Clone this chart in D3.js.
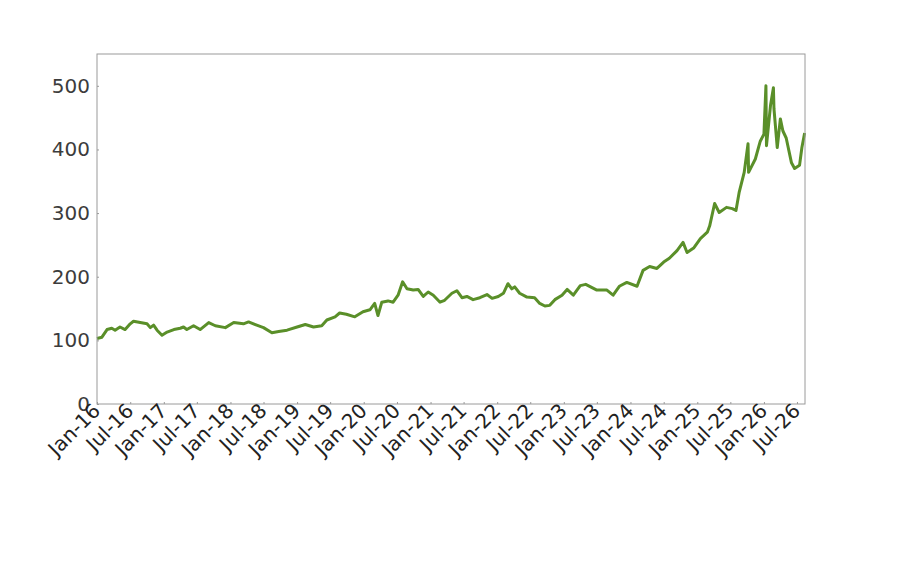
<!DOCTYPE html>
<html>
<head>
<meta charset="utf-8">
<script src="https://cdn.jsdelivr.net/npm/d3@7"></script>
<style>
  body { margin: 0; background: #fff; }
  svg { display: block; }
</style>
</head>
<body>
<svg id="chart" width="902" height="574"></svg>
<script>
// values
const dates = [
  "2016-01-01","2016-01-28","2016-02-25","2016-03-22","2016-04-09","2016-05-06","2016-06-03","2016-07-01",
  "2016-07-19","2016-08-25","2016-10-01","2016-10-19","2016-11-06","2016-11-25","2016-12-22","2017-01-19",
  "2017-02-25","2017-04-01","2017-04-19","2017-05-07","2017-06-13","2017-07-19","2017-09-04","2017-10-10",
  "2017-12-04","2018-01-19","2018-03-13","2018-04-10","2018-05-25","2018-07-01","2018-08-16","2018-09-22",
  "2018-11-07","2019-01-01","2019-02-15","2019-04-01","2019-05-16","2019-06-13","2019-07-28","2019-08-22",
  "2019-09-28","2019-11-13","2019-12-28","2020-02-04","2020-03-01","2020-03-19","2020-04-09","2020-05-13",
  "2020-06-10","2020-07-07","2020-08-01","2020-08-25","2020-09-28","2020-10-25","2020-11-22","2020-12-19",
  "2021-01-16","2021-02-22","2021-03-19","2021-04-28","2021-05-25","2021-06-22","2021-07-19","2021-08-22",
  "2021-09-28","2021-11-06","2021-12-04","2022-01-07","2022-02-04","2022-03-01","2022-03-22","2022-04-07",
  "2022-05-04","2022-06-13","2022-07-25","2022-08-22","2022-09-19","2022-10-16","2022-11-13","2022-12-22",
  "2023-01-19","2023-02-22","2023-04-01","2023-05-01","2023-07-01","2023-08-25","2023-09-28","2023-11-01",
  "2023-12-12","2024-02-06","2024-03-10","2024-04-15","2024-05-25","2024-07-01","2024-08-01","2024-09-12",
  "2024-10-15","2024-11-06","2024-12-12","2025-01-18","2025-02-25","2025-03-10","2025-04-06","2025-05-01",
  "2025-06-10","2025-07-12","2025-08-01","2025-08-18","2025-09-15","2025-10-06","2025-10-09","2025-11-15",
  "2025-12-12","2026-01-01","2026-01-12","2026-01-15","2026-02-06","2026-02-22","2026-02-25","2026-03-15",
  "2026-04-01","2026-04-15","2026-05-03","2026-06-01","2026-06-18","2026-07-15","2026-07-28","2026-08-12"
];
const values = [
  103, 105, 117, 119, 116, 121, 117, 126,
  130, 128, 126, 120, 124, 116, 108, 113,
  117, 119, 121, 117, 123, 117, 128, 123,
  120, 128, 126, 129, 124, 120, 112, 114,
  116, 121, 125, 121, 123, 132, 137, 143,
  141, 137, 145, 148, 158, 139, 160, 162,
  160, 171, 192, 181, 179, 180, 169, 176,
  171, 160, 163, 174, 178, 167, 169, 164,
  167, 172, 166, 169, 174, 189, 181, 184,
  174, 168, 167, 158, 154, 155, 164, 171,
  180, 171, 186, 188, 179, 179, 171, 185,
  191, 185, 210, 216, 213, 223, 229, 241,
  254, 238, 245, 260, 270, 280, 315, 301,
  309, 307, 304, 332, 364, 409, 364, 385,
  413, 424, 500, 406, 469, 497, 464, 403,
  448, 429, 418, 379, 370, 375, 403, 426
];
const yTicks = [0, 100, 200, 300, 400, 500];
const xStart = "2016-01-01", xEnd = "2026-08-14";

const parse = d3.timeParse("%Y-%m-%d");
const data = dates.map((d, i) => ({ date: parse(d), value: values[i] }));

const svg = d3.select("#chart"),
    margin = { top: 54, right: 97, bottom: 170, left: 97 },
    width = +svg.attr("width") - margin.left - margin.right,
    height = +svg.attr("height") - margin.top - margin.bottom;

const g = svg.append("g").attr("transform", `translate(${margin.left},${margin.top})`);

const x = d3.scaleTime()
    .domain([parse(xStart), parse(xEnd)])
    .range([0, width]);

const y = d3.scaleLinear()
    .domain([0, 550])
    .range([height, 0]);

// line
g.append("path")
    .datum(data)
    .attr("fill", "none")
    .attr("stroke", "#5a8f29")
    .attr("stroke-width", 3)
    .attr("stroke-linejoin", "round")
    .attr("d", d3.line().x(d => x(d.date)).y(d => y(d.value)));

// frame
g.append("rect")
    .attr("width", width)
    .attr("height", height)
    .attr("fill", "none")
    .attr("stroke", "#9a9a9a")
    .attr("stroke-width", 1);

// y axis (small inward ticks)
const yAxis = g.append("g")
    .call(d3.axisLeft(y).tickValues(yTicks).tickSize(-2).tickPadding(7));
yAxis.select(".domain").remove();
yAxis.selectAll("line").attr("stroke", "#9a9a9a");
yAxis.selectAll("text")
    .attr("fill", "#3c3c3c")
    .style("font-family", "'DejaVu Sans', sans-serif")
    .style("font-size", "20px");

// x axis
const xAxis = g.append("g")
    .attr("transform", `translate(0,${height})`)
    .call(d3.axisBottom(x)
        .ticks(d3.timeMonth.every(6))
        .tickFormat(d3.timeFormat("%b-%y"))
        .tickSize(-2));
xAxis.select(".domain").remove();
xAxis.selectAll("line").attr("stroke", "#9a9a9a");
xAxis.selectAll("text")
    .attr("fill", "#222")
    .style("font-family", "'DejaVu Sans', sans-serif")
    .style("font-size", "20px")
    .style("text-anchor", "end")
    .attr("dy", 0)
    .attr("y", 0)
    .attr("transform", "translate(4,8) rotate(-45)");
</script>
</body>
</html>
